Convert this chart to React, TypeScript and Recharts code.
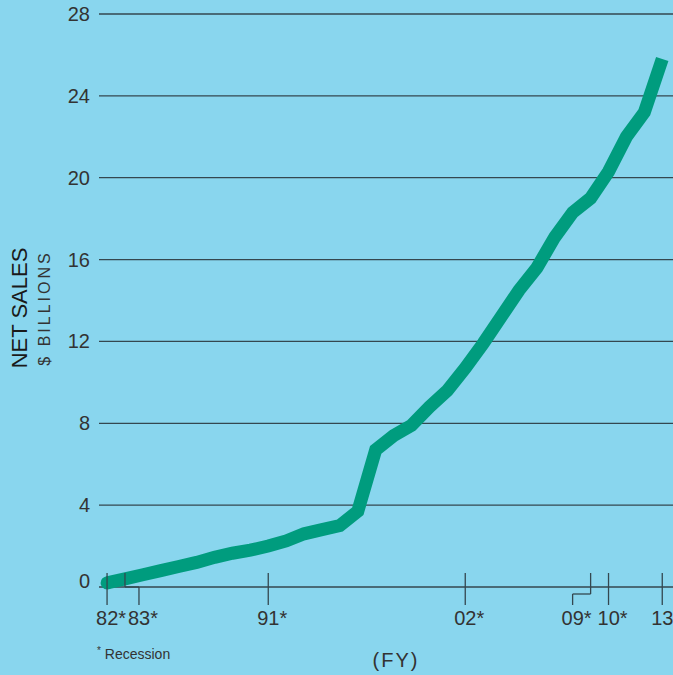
import React from "react";
import { LineChart, Line, XAxis, YAxis, CartesianGrid } from "recharts";

const years = [1982, 1983, 1984, 1985, 1986, 1987, 1988, 1989, 1990, 1991, 1992, 1993, 1994, 1995, 1996, 1997, 1998, 1999, 2000, 2001, 2002, 2003, 2004, 2005, 2006, 2007, 2008, 2009, 2010, 2011, 2012, 2013];
const netSales = [0.2, 0.4, 0.6, 0.8, 1.0, 1.2, 1.45, 1.65, 1.8, 2.0, 2.25, 2.6, 2.8, 3.0, 3.7, 6.7, 7.4, 7.9, 8.8, 9.6, 10.7, 11.9, 13.2, 14.5, 15.6, 17.1, 18.3, 19.0, 20.3, 22.0, 23.2, 25.8];
const yTicks = [0, 4, 8, 12, 16, 20, 24, 28];
const xTicks = [1982, 1983, 1991, 2002, 2009, 2010, 2013];
const xTickLabels = ["82*", "83*", "91*", "02*", "09*", "10*", "13"];
// label/bottom-tick shift and joint depth for recession brackets
const xTickShift = [0, 14, 0, 0, -18, 0, 0];
const xTickJoin = [0, 0, 0, 0, 7, 0, 0];

const data = years.map((y, i) => ({ year: y, sales: netSales[i] }));

const BG = "#89D6EE";
const LINE = "#009C7E";
const GRID = "#34474f";
const TEXT = "#333333";
const FONT = "'Liberation Sans', Arial, Helvetica, sans-serif";

const XTick = (props: any) => {
  const { x, y, payload } = props;
  const idx = xTicks.indexOf(payload.value);
  const dx = xTickShift[idx] || 0;
  const j = xTickJoin[idx] || 0;
  const label = xTickLabels[idx];
  return (
    <g>
      <line x1={x} x2={x} y1={y - 14} y2={y + j} stroke={GRID} strokeWidth={1.3} />
      {(dx !== 0) && <line x1={x} x2={x + dx} y1={y + j} y2={y + j} stroke={GRID} strokeWidth={1.3} />}
      <line x1={x + dx} x2={x + dx} y1={y + j} y2={y + 18} stroke={GRID} strokeWidth={1.3} />
      <text x={x + dx - 11} y={y + 38} textAnchor="start" fontSize={20} fill={TEXT} fontFamily={FONT}>
        {label}
      </text>
    </g>
  );
};

const YTick = (props: any) => {
  const { x, y, payload } = props;
  const off = payload.value === 0 ? -6 : 0;
  return (
    <text x={x} y={y + off + 7} textAnchor="end" fontSize={20} fill={TEXT} fontFamily={FONT}>
      {payload.value}
    </text>
  );
};

const StartDot = (props: any) => {
  const { cx, cy, index } = props;
  if (index !== 0) return <g key={index} />;
  return <circle key={index} cx={cx} cy={cy} r={6.5} fill={LINE} />;
};

export default function App() {
  return (
    <div style={{ position: "absolute", left: 0, top: 0, width: 673, height: 675, background: BG, overflow: "hidden" }}>
      <LineChart width={673} height={675} data={data} margin={{ top: 14, right: 0, bottom: 0, left: 0 }}>
        <CartesianGrid vertical={false} stroke={GRID} strokeWidth={1.3} horizontalPoints={undefined} />
        <XAxis
          dataKey="year"
          type="number"
          domain={[1981.55, 2013.6]}
          ticks={xTicks}
          allowDataOverflow
          axisLine={false}
          tickLine={false}
          tickSize={0}
          tickMargin={0}
          height={88}
          tick={<XTick />}
          interval={0}
        />
        <YAxis
          type="number"
          domain={[0, 28]}
          ticks={yTicks}
          width={99}
          axisLine={false}
          tickLine={false}
          tickSize={0}
          tickMargin={9}
          tick={<YTick />}
          interval={0}
        />
        <Line
          type="linear"
          dataKey="sales"
          stroke={LINE}
          strokeWidth={13}
          dot={<StartDot />}
          activeDot={false}
          isAnimationActive={false}
        />
      </LineChart>
      <svg width={673} height={675} style={{ position: "absolute", left: 0, top: 0, pointerEvents: "none" }}>
        <text transform="translate(27,308) rotate(-90)" textAnchor="middle" fontSize={22} fill="#1a1a1a" fontFamily={FONT}>
          NET SALES
        </text>
        <text transform="translate(50,308) rotate(-90)" textAnchor="middle" fontSize={16} letterSpacing={3} fill={TEXT} fontFamily={FONT}>
          $ BILLIONS
        </text>
        <text x={97} y={659} fontSize={14} fill={TEXT} fontFamily={FONT}>
          <tspan fontSize={10} dy={-5}>*</tspan>
          <tspan dy={5}> Recession</tspan>
        </text>
        <text x={396} y={667} textAnchor="middle" fontSize={20} letterSpacing={2} fill={TEXT} fontFamily={FONT}>
          (FY)
        </text>
      </svg>
    </div>
  );
}
